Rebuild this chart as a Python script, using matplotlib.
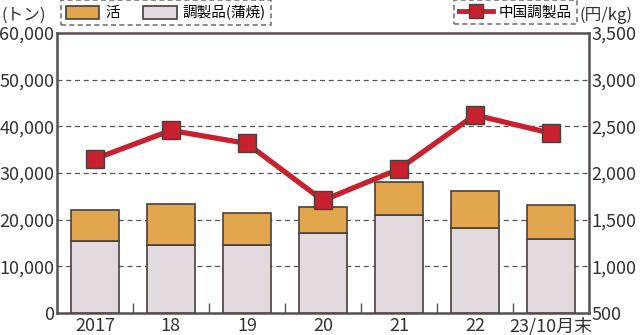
import numpy as np
import matplotlib.pyplot as plt
from matplotlib.patches import Patch
from matplotlib.lines import Line2D

plt.rcParams['font.family'] = ['Liberation Sans Narrow', 'Noto Sans CJK JP', 'DejaVu Sans']

# data
years = ['2017', '18', '19', '20', '21', '22', '23/10月末']
processed = [15300, 14600, 14650, 17200, 21000, 18100, 15900]   # 調製品(蒲焼)
live_total = [22000, 23300, 21400, 22700, 28000, 26200, 23150]  # bar tops
live = [t - p for t, p in zip(live_total, processed)]           # 活
china_price = [2150, 2455, 2315, 1705, 2040, 2620, 2425]        # 中国調製品 (円/kg)

left_ticks = [0, 10000, 20000, 30000, 40000, 50000, 60000]
right_ticks = [500, 1000, 1500, 2000, 2500, 3000, 3500]

c_live = '#E2A64C'
c_proc = '#E3DAE0'
c_red = '#C8202F'
c_edge = '#4A403C'
c_axis = '#555050'

fig = plt.figure(figsize=(6.4, 3.35), dpi=100)
ax = fig.add_axes([0.089, 0.066, 0.831, 0.836])
x = np.arange(len(years))

ax.bar(x, processed, 0.63, color=c_proc, edgecolor=c_edge, linewidth=1.2, zorder=3)
ax.bar(x, live, 0.63, bottom=processed, color=c_live, edgecolor=c_edge, linewidth=1.2, zorder=3)

ax.set_xlim(-0.5, 6.5)
ax.set_ylim(0, 60000)
ax.set_yticks(left_ticks)
ax.set_yticklabels([f'{v:,}' for v in left_ticks])
ax.set_xticks(x)
ax.set_xticklabels(years)
ax.set_xticks(x[:-1] + 0.5, minor=True)
ax.tick_params(axis='x', which='major', length=0, labelsize=13, colors='#333', pad=3)
ax.tick_params(axis='x', which='minor', direction='in', length=7, width=1, color=c_axis)
ax.tick_params(axis='y', length=0, labelsize=13, colors='#333', pad=2)
for v in left_ticks[1:-1]:
    ax.axhline(v, color='#555', lw=0.9, ls=(0, (4, 3)), zorder=1)
for s in ax.spines.values():
    s.set_color(c_axis)
    s.set_linewidth(1.8)

ax2 = ax.twinx()
ax2.plot(x, china_price, color=c_red, lw=3.8, marker='s', ms=13,
         mfc=c_red, mec=c_edge, mew=1, zorder=5)
ax2.set_ylim(500, 3500)
ax2.set_yticks(right_ticks)
ax2.set_yticklabels([f'{v:,}' for v in right_ticks])
ax2.tick_params(axis='y', length=0, labelsize=13, colors='#333', pad=2)
for s in ax2.spines.values():
    s.set_visible(False)

jp = ['Noto Sans CJK JP', 'DejaVu Sans']
fig.text(0.002, 0.955, '(トン)', fontsize=12, family=jp, color='#333', va='center')
fig.text(0.905, 0.955, '(円/kg)', fontsize=12, family=jp, color='#333', va='center')

h1 = [Patch(facecolor=c_live, edgecolor=c_edge, lw=1.2),
      Patch(facecolor=c_proc, edgecolor=c_edge, lw=1.2)]
leg1 = fig.legend(h1, ['活', '調製品(蒲焼)'], loc='upper left', bbox_to_anchor=(0.095, 1.0),
                  ncol=2, prop={'family': jp, 'size': 10.5}, handlelength=2.3, handleheight=1.0,
                  columnspacing=1.6, handletextpad=0.4, borderpad=0.35, fancybox=False,
                  borderaxespad=0)
leg1.get_frame().set_linestyle((0, (3, 2)))
leg1.get_frame().set_edgecolor('#555')
leg1.get_frame().set_linewidth(1.2)

h2 = [Line2D([], [], color=c_red, lw=3.5, marker='s', ms=10, mfc=c_red, mec=c_edge, mew=1)]
leg2 = fig.legend(h2, ['中国調製品'], loc='upper right', bbox_to_anchor=(0.901, 1.0),
                  prop={'family': jp, 'size': 10.5}, handlelength=2.3,
                  handletextpad=0.4, borderpad=0.35, fancybox=False, borderaxespad=0)
leg2.get_frame().set_linestyle((0, (3, 2)))
leg2.get_frame().set_edgecolor('#555')
leg2.get_frame().set_linewidth(1.2)

fig.savefig('out.png', dpi=100)
